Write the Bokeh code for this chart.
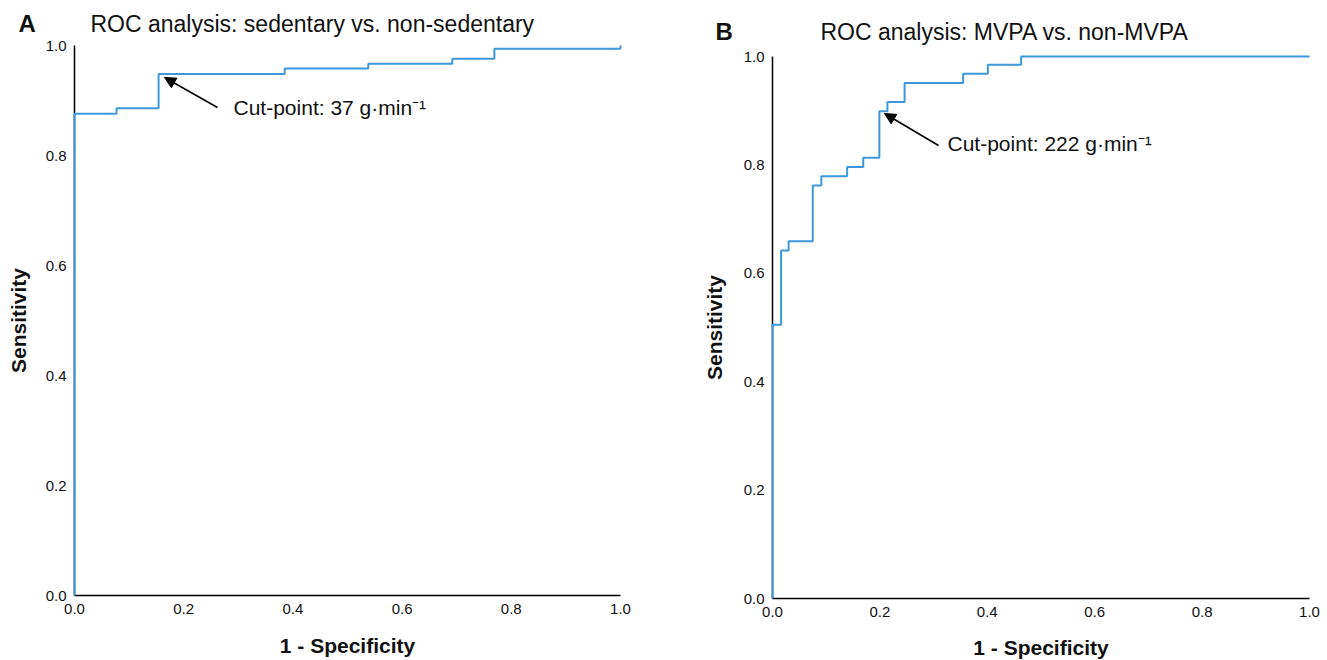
from bokeh.plotting import figure
from bokeh.models import Range1d, FixedTicker, PrintfTickFormatter, Arrow, NormalHead, Label
from bokeh.layouts import row
from bokeh.embed import file_html
from bokeh.resources import INLINE

# ---- data ----
fpr_a = [0.0, 0.077, 0.154, 0.385, 0.538, 0.692, 0.769, 1.0]
tpr_a = [0.876, 0.886, 0.948, 0.958, 0.967, 0.976, 0.994, 1.0]

fpr_b = [0.0, 0.016, 0.030, 0.075, 0.091, 0.139, 0.169, 0.199, 0.214, 0.246, 0.355, 0.401, 0.463, 1.0]
tpr_b = [0.505, 0.642, 0.659, 0.762, 0.779, 0.796, 0.813, 0.899, 0.916, 0.951, 0.968, 0.985, 1.0, 1.0]

ticks = [0.0, 0.2, 0.4, 0.6, 0.8, 1.0]
titles = ["ROC analysis: sedentary vs. non-sedentary", "ROC analysis: MVPA vs. non-MVPA"]
letters = ["A", "B"]
cut_labels = ["Cut-point: 37 g\u00b7min\u207b\u00b9", "Cut-point: 222 g\u00b7min\u207b\u00b9"]
x_label = "1 - Specificity"
y_label = "Sensitivity"

FONT = "Liberation Sans"
LINE_COLOR = "#3d98db"
TEXT_COLOR = "#111111"


def staircase(fpr, tpr):
    xs, ys = [0.0], [0.0]
    for f, t in zip(fpr, tpr):
        xs += [f, f]
        ys += [ys[-1], t]
    return xs, ys


def panel(fpr, tpr, title, letter, cut_text, geom, arrow_px, text_px, title_px, letter_px,
          xlab_standoff, ylab_standoff):
    # geom: canvas size and pixel box of the unit square (0..1 x 0..1)
    W, H, L, R, T, B = geom
    sx = (R - L)  # px per unit
    sy = (B - T)

    def to_data(px, py):
        return (px - L) / sx, (B - py) / sy

    p = figure(width=W, height=H, min_border=0, title=None,
               x_range=Range1d(-L / sx, (W - L) / sx),
               y_range=Range1d(-(H - B) / sy, B / sy),
               output_backend="svg", toolbar_location=None, tools="")
    p.outline_line_color = None
    p.background_fill_color = "white"
    p.border_fill_color = "white"
    p.xgrid.visible = False
    p.ygrid.visible = False

    for ax in (p.xaxis[0], p.yaxis[0]):
        ax.fixed_location = 0
        ax.bounds = (0, 1)
        ax.ticker = FixedTicker(ticks=ticks)
        ax.formatter = PrintfTickFormatter(format="%.1f")
        ax.major_tick_out = 0
        ax.major_tick_in = 0
        ax.minor_tick_out = 0
        ax.minor_tick_in = 0
        ax.axis_line_color = "black"
        ax.axis_line_width = 1.5
        ax.major_label_text_font = FONT
        ax.major_label_text_font_size = "15px"
        ax.major_label_text_color = TEXT_COLOR
        ax.axis_label_text_font = FONT
        ax.axis_label_text_font_size = "21px"
        ax.axis_label_text_font_style = "bold"
        ax.axis_label_text_color = TEXT_COLOR
    p.xaxis.axis_label = x_label
    p.yaxis.axis_label = y_label
    p.xaxis.major_label_standoff = 8
    p.yaxis.major_label_standoff = 8
    p.xaxis.axis_label_standoff = xlab_standoff
    p.yaxis.axis_label_standoff = ylab_standoff

    xs, ys = staircase(fpr, tpr)
    p.line(xs, ys, line_color=LINE_COLOR, line_width=2, level="overlay")

    x0, y0 = to_data(*arrow_px[0])
    x1, y1 = to_data(*arrow_px[1])
    p.add_layout(Arrow(end=NormalHead(size=11, fill_color="black", line_color="black"),
                       x_start=x0, y_start=y0, x_end=x1, y_end=y1,
                       line_color="black", line_width=1.5))
    tx, ty = to_data(*text_px)
    p.add_layout(Label(x=tx, y=ty, text=cut_text,
                       text_font=FONT, text_font_size="21px", text_color=TEXT_COLOR,
                       text_baseline="middle", text_align="left"))
    hx, hy = to_data(*title_px)
    p.add_layout(Label(x=hx, y=hy, text=title,
                       text_font=FONT, text_font_size="23px", text_color=TEXT_COLOR,
                       text_baseline="middle", text_align="left"))
    lx, ly = to_data(*letter_px)
    p.add_layout(Label(x=lx, y=ly, text=letter, text_font=FONT, text_font_size="24px",
                       text_font_style="bold", text_color=TEXT_COLOR,
                       text_baseline="middle", text_align="left"))
    return p


# panel A occupies x 0..690 of the page, panel B x 690..1327
pa = panel(fpr_a, tpr_a, titles[0], letters[0], cut_labels[0],
           geom=(690, 660, 74, 620, 45, 595),
           arrow_px=((217, 107), (164, 77)), text_px=(233, 107),
           title_px=(90, 23), letter_px=(18, 23), xlab_standoff=17, ylab_standoff=13)
pb = panel(fpr_b, tpr_b, titles[1], letters[1], cut_labels[1],
           geom=(637, 660, 82, 619, 56, 598),
           arrow_px=((938 - 690, 145), (884 - 690, 113)), text_px=(947 - 690, 143),
           title_px=(820 - 690, 31), letter_px=(715 - 690, 31), xlab_standoff=16, ylab_standoff=15)

layout = row(pa, pb)
open("out.html", "w").write(file_html(layout, INLINE))
